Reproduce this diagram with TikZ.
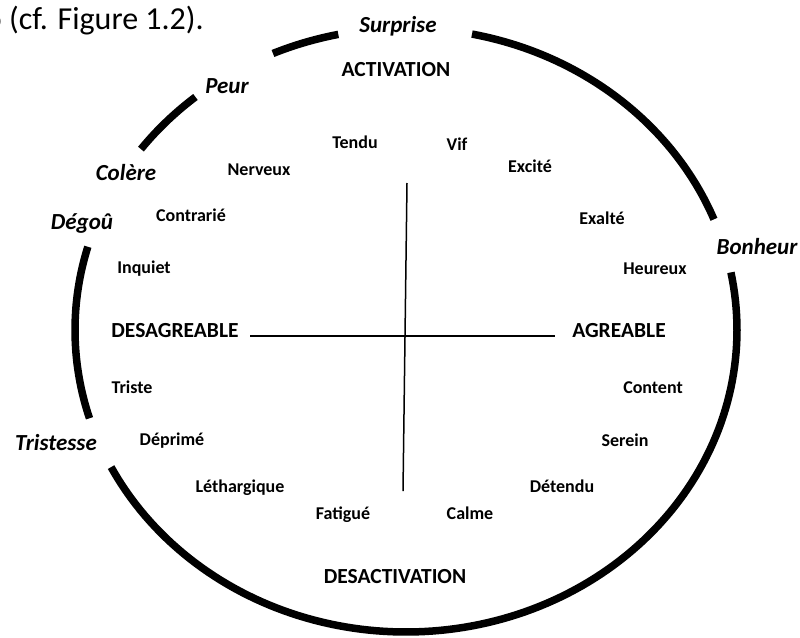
\documentclass[tikz,border=0pt]{standalone}
\usepackage{fontspec}
\setmainfont{Carlito}
\begin{document}
\begin{tikzpicture}[x=1pt,y=-1pt,
  lab/.style={font=\fontsize{18}{20}\selectfont\bfseries, anchor=base, inner sep=0pt},
  caps/.style={font=\fontsize{21.5}{24}\selectfont\bfseries, anchor=base, inner sep=0pt},
  emo/.style={font=\fontsize{23}{26}\selectfont\bfseries\itshape, anchor=base, inner sep=0pt},
  body/.style={font=\fontsize{32}{36}\selectfont, anchor=base east, inner sep=0pt},
  ring/.style={line width=7.5pt, line cap=butt},
  axis/.style={line width=1.5pt}]
\useasboundingbox (0,0) rectangle (800,637);
% cut-off body text
\node[body] (ref) at (204,29) {o (cf. Figure 1.2).};
% ring arcs (ellipse centre (406,330), radii 331 x 302)
\draw[ring] plot[domain=21.5:78.5, samples=60] ({406+331*cos(\x)},{330-302*sin(\x)});
\draw[ring] plot[domain=101.8:113.7, samples=20] ({406+331*cos(\x)},{330-302*sin(\x)});
\draw[ring] plot[domain=129.5:143.2, samples=20] ({406+331*cos(\x)},{330-302*sin(\x)});
\draw[ring] plot[domain=164:197, samples=40] ({406+331*cos(\x)},{330-302*sin(\x)});
\draw[ring] plot[domain=207:371, samples=120] ({406+331*cos(\x)},{330-302*sin(\x)});
% axes
\coordinate (vtop) at (407,183);
\coordinate (vbot) at (403,491);
\coordinate (hl) at (250,336);
\coordinate (hr) at (555,336);
\draw[axis] (vtop) -- (vbot);
\draw[axis] (hl) -- (hr);
% emotions on the ring
\node[emo] (surprise) at (398,32) {Surprise};
\node[emo] (peur) at (227,93) {Peur};
\node[emo] (colere) at (126,180) {Colère};
\node[emo] (degout) at (82,229) {Dégoû};
\node[emo] (bonheur) at (757,254) {Bonheur};
\node[emo] (tristesse) at (56,450) {Tristesse};
% axis labels
\node[caps] (act) at (396,76) {ACTIVATION};
\node[caps] (desact) at (395,583) {DESACTIVATION};
\node[caps] (desagr) at (175,337) {DESAGREABLE};
\node[caps] (agr) at (619,337) {AGREABLE};
% states
\node[lab] (tendu) at (355,148) {Tendu};
\node[lab] (vif) at (457,150) {Vif};
\node[lab] (excite) at (530,172) {Excité};
\node[lab] (nerveux) at (259,175) {Nerveux};
\node[lab] (contrarie) at (191,221) {Contrarié};
\node[lab] (exalte) at (602,224) {Exalté};
\node[lab] (inquiet) at (144,273) {Inquiet};
\node[lab] (heureux) at (655,274) {Heureux};
\node[lab] (triste) at (132,393) {Triste};
\node[lab] (content) at (653,393) {Content};
\node[lab] (deprime) at (172,445) {Déprimé};
\node[lab] (serein) at (625,446) {Serein};
\node[lab] (letharg) at (240,492) {Léthargique};
\node[lab] (detendu) at (562,492) {Détendu};
\node[lab] (fatigue) at (343,519) {Fatigué};
\node[lab] (calme) at (470,519) {Calme};
\end{tikzpicture}
\end{document}
